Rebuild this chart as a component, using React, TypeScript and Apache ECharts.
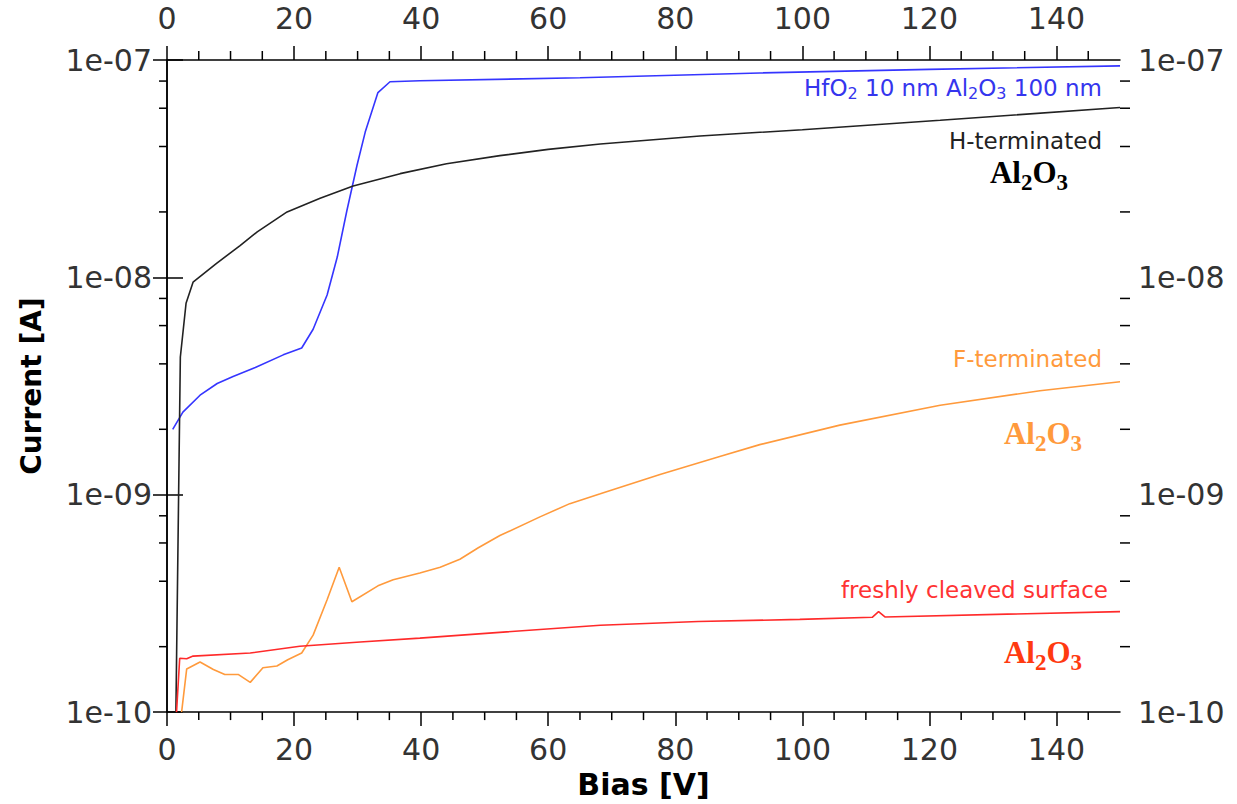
import React, { useEffect, useRef } from 'react';
import * as echarts from 'echarts';

// ---------- data ----------
const X_MIN = 0;
const X_MAX = 150;
const Y_MIN = 1e-10;
const Y_MAX = 1e-7;

const minorBiasTicks = [5, 10, 15, 25, 30, 35, 45, 50, 55, 65, 70, 75, 85, 90, 95, 105, 110, 115, 125, 130, 135, 145];
const minorCurrentTicks = [2e-10, 4e-10, 6e-10, 8e-10, 2e-9, 4e-9, 6e-9, 8e-9, 2e-8, 4e-8, 6e-8, 8e-8];

// HfO2 10 nm / Al2O3 100 nm (blue)
const hfo2Bias = [0.9, 2.5, 5.2, 7.9, 10.4, 13.9, 18.3, 21.2, 23.0, 25.2, 26.8, 28.3, 29.9, 31.2, 33.2, 35.1, 39.8, 65, 93.3, 120, 150];
const hfo2Current = [2.0e-9, 2.4e-9, 2.87e-9, 3.25e-9, 3.5e-9, 3.85e-9, 4.4e-9, 4.73e-9, 5.77e-9, 8.3e-9, 1.24e-8, 2.02e-8, 3.27e-8, 4.66e-8, 7.08e-8, 7.94e-8, 8.03e-8, 8.28e-8, 8.72e-8, 9.05e-8, 9.4e-8];

// H-terminated Al2O3 (black)
const hBias = [1.4, 2.1, 3.0, 4.1, 7.8, 11.5, 14.2, 18.9, 24.1, 29.3, 36.7, 44.0, 52.4, 60.0, 68.2, 83.9, 100, 121.7, 150];
const hCurrent = [1.0e-10, 4.3e-9, 7.6e-9, 9.5e-9, 1.16e-8, 1.40e-8, 1.62e-8, 2.0e-8, 2.31e-8, 2.63e-8, 3.0e-8, 3.33e-8, 3.63e-8, 3.88e-8, 4.11e-8, 4.47e-8, 4.78e-8, 5.28e-8, 6.05e-8];

// F-terminated Al2O3 (orange)
const fBias = [2.3, 3.1, 5.2, 7.3, 9.1, 11.2, 13.1, 15.1, 17.3, 19.0, 21.2, 23.0, 25.2, 27.1, 29.1, 33.2, 35.6, 39.8, 43.0, 46.1, 49.0, 52.4, 58.7, 63.4, 68.2, 77.6, 87.0, 93.3, 105.9, 121.7, 137.4, 150];
const fCurrent = [1.0e-10, 1.58e-10, 1.70e-10, 1.57e-10, 1.49e-10, 1.49e-10, 1.37e-10, 1.60e-10, 1.63e-10, 1.74e-10, 1.87e-10, 2.26e-10, 3.29e-10, 4.64e-10, 3.22e-10, 3.81e-10, 4.06e-10, 4.36e-10, 4.64e-10, 5.05e-10, 5.7e-10, 6.49e-10, 7.91e-10, 9.1e-10, 1.01e-9, 1.24e-9, 1.50e-9, 1.70e-9, 2.09e-9, 2.58e-9, 3.01e-9, 3.31e-9];

// freshly cleaved surface Al2O3 (red)
const cleavedBias = [1.5, 2.0, 3.1, 4.1, 13.1, 20.9, 30.4, 39.8, 68.2, 83.6, 99.6, 111.0, 112.0, 113.0, 150];
const cleavedCurrent = [1.0e-10, 1.77e-10, 1.76e-10, 1.81e-10, 1.87e-10, 2.01e-10, 2.10e-10, 2.19e-10, 2.51e-10, 2.61e-10, 2.67e-10, 2.73e-10, 2.9e-10, 2.74e-10, 2.9e-10];

const zip = (xs: number[], ys: number[]) => xs.map((x, i) => [x, ys[i]]);

const SANS = 'DejaVu Sans';
const SERIF = 'Liberation Serif';

const fmtExp = (v: number) => {
  const e = Math.round(Math.log10(v));
  return '1e' + (e < 0 ? '-' : '+') + String(Math.abs(e)).padStart(2, '0');
};

const axisLineStyle = { color: '#000', width: 1.5 };

const sansLabel = (x: number, y: number, parts: [string, boolean][], color: string, align: string) => {
  const text = parts.map(([t, sub]) => `{${sub ? 's' : 't'}|${t}}`).join('');
  return {
    type: 'text',
    x,
    y,
    silent: true,
    style: {
      text,
      align,
      verticalAlign: 'middle',
      fill: color,
      rich: {
        t: { fontFamily: SANS, fontSize: 23, lineHeight: 26, height: 26, fill: color, verticalAlign: 'bottom' },
        s: { fontFamily: SANS, fontSize: 16, height: 16, fill: color, verticalAlign: 'bottom' },
      },
    },
  };
};

const oxideLabel = (x: number, y: number, color: string) => ({
  type: 'text',
  x,
  y,
  silent: true,
  style: {
    text: '{t|Al}{s|2}{t|O}{s|3}',
    align: 'center',
    verticalAlign: 'middle',
    fill: color,
    rich: {
      t: { fontFamily: SERIF, fontWeight: 'bold', fontSize: 31, lineHeight: 34, height: 34, fill: color, verticalAlign: 'bottom' },
      s: { fontFamily: SERIF, fontWeight: 'bold', fontSize: 23, height: 13, fill: color, verticalAlign: 'bottom' },
    },
  },
});

export default function App() {
  const ref = useRef<HTMLDivElement>(null);

  useEffect(() => {
    if (!ref.current) return;
    const chart = echarts.init(ref.current, undefined, { renderer: 'svg' });

    const xAxisBase = {
      type: 'value',
      min: X_MIN,
      max: X_MAX,
      interval: 20,
      axisLine: { show: true, onZero: false, lineStyle: axisLineStyle },
      axisTick: { show: true, length: 14, lineStyle: axisLineStyle },
      splitLine: { show: false },
    };
    const yAxisBase = {
      type: 'log',
      logBase: 10,
      min: Y_MIN,
      max: Y_MAX,
      axisLine: { show: true, lineStyle: axisLineStyle },
      splitLine: { show: false },
    };

    const option: any = {
      animation: false,
      backgroundColor: '#fff',
      textStyle: { fontFamily: SANS },
      grid: { left: 167, right: 117, top: 60, bottom: 81, containLabel: false },
      xAxis: [
        {
          ...xAxisBase,
          position: 'bottom',
          axisLabel: { fontSize: 30, color: '#333', margin: 22, showMaxLabel: false, fontFamily: SANS },
          name: 'Bias [V]',
          nameLocation: 'middle',
          nameGap: 54,
          nameTextStyle: { fontSize: 30, fontWeight: 'bold', color: '#000', fontFamily: SANS },
        },
        {
          ...xAxisBase,
          position: 'top',
          axisLabel: { fontSize: 30, color: '#333', margin: 27, showMaxLabel: false, fontFamily: SANS },
        },
      ],
      yAxis: [
        {
          ...yAxisBase,
          position: 'left',
          axisTick: { show: true, length: 14, lineStyle: axisLineStyle },
          axisLabel: { fontSize: 30, color: '#333', margin: 15, formatter: fmtExp, fontFamily: SANS },
          name: 'Current [A]',
          nameLocation: 'middle',
          nameGap: 122,
          nameRotate: 90,
          nameTextStyle: { fontSize: 28, fontWeight: 'bold', color: '#000', fontFamily: SANS },
        },
        {
          ...yAxisBase,
          position: 'right',
          axisTick: { show: true, length: 16, lineStyle: axisLineStyle },
          axisLabel: { fontSize: 30, color: '#333', margin: 18, formatter: fmtExp, fontFamily: SANS },
        },
      ],
      series: [
        {
          type: 'line',
          data: zip(hfo2Bias, hfo2Current),
          showSymbol: false,
          symbol: 'none',
          lineStyle: { color: '#3535ff', width: 1.6 },
          xAxisIndex: 0,
          yAxisIndex: 0,
        },
        {
          type: 'line',
          data: zip(hBias, hCurrent),
          showSymbol: false,
          symbol: 'none',
          lineStyle: { color: '#222', width: 1.6 },
          xAxisIndex: 0,
          yAxisIndex: 0,
        },
        {
          type: 'line',
          data: zip(fBias, fCurrent),
          showSymbol: false,
          symbol: 'none',
          lineStyle: { color: '#ff9a3c', width: 1.6 },
          xAxisIndex: 0,
          yAxisIndex: 0,
        },
        {
          type: 'line',
          data: zip(cleavedBias, cleavedCurrent),
          showSymbol: false,
          symbol: 'none',
          lineStyle: { color: '#ff2a2a', width: 1.6 },
          xAxisIndex: 0,
          yAxisIndex: 0,
        },
        {
          type: 'custom',
          silent: true,
          clip: false,
          xAxisIndex: 0,
          yAxisIndex: 0,
          data: minorCurrentTicks.map((v) => [X_MIN, v]),
          encode: { x: 0, y: 1 },
          renderItem: (_params: any, api: any) => {
            const v = api.value(1);
            const l = api.coord([X_MIN, v]);
            const r = api.coord([X_MAX, v]);
            return {
              type: 'group',
              children: [
                { type: 'line', shape: { x1: l[0] - 8, y1: l[1], x2: l[0], y2: l[1] }, style: { stroke: '#000', lineWidth: 1.5 } },
                { type: 'line', shape: { x1: r[0], y1: r[1], x2: r[0] + 10, y2: r[1] }, style: { stroke: '#000', lineWidth: 1.5 } },
              ],
            };
          },
        },
        {
          type: 'custom',
          silent: true,
          clip: false,
          xAxisIndex: 0,
          yAxisIndex: 0,
          data: minorBiasTicks.map((v) => [v, Y_MIN]),
          encode: { x: 0, y: 1 },
          renderItem: (_params: any, api: any) => {
            const v = api.value(0);
            const b = api.coord([v, Y_MIN]);
            const t = api.coord([v, Y_MAX]);
            return {
              type: 'group',
              children: [
                { type: 'line', shape: { x1: b[0], y1: b[1], x2: b[0], y2: b[1] + 8 }, style: { stroke: '#000', lineWidth: 1.5 } },
                { type: 'line', shape: { x1: t[0], y1: t[1] - 9, x2: t[0], y2: t[1] }, style: { stroke: '#000', lineWidth: 1.5 } },
              ],
            };
          },
        },
      ],
      graphic: [
        sansLabel(1102, 88, [['HfO', false], ['2', true], [' 10 nm Al', false], ['2', true], ['O', false], ['3', true], [' 100 nm', false]], '#3535ee', 'right'),
        sansLabel(1102, 141, [['H-terminated', false]], '#222', 'right'),
        oxideLabel(1029, 172, '#000'),
        sansLabel(1102, 359, [['F-terminated', false]], '#ff9a3c', 'right'),
        oxideLabel(1043, 433, '#ff9a3c'),
        sansLabel(1108, 590, [['freshly cleaved surface', false]], '#ff3333', 'right'),
        oxideLabel(1043, 652, '#ff3a10'),
      ],
    };

    chart.setOption(option);
    return () => chart.dispose();
  }, []);

  return (
    <div
      ref={ref}
      style={{ position: 'fixed', left: 0, top: 0, width: 1237, height: 804, background: '#fff' }}
    />
  );
}
